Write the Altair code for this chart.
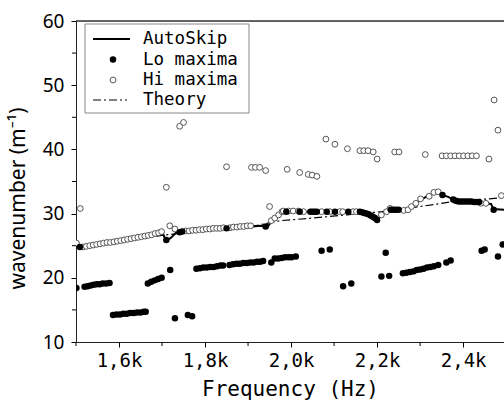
import altair as alt
import pandas as pd

# ---------------- data ----------------
theory_f = [1500, 1600, 1700, 1800, 1900, 1975, 2050, 2130, 2210, 2290, 2370, 2495]
theory_v = [24.9, 25.7, 26.6, 27.4, 27.9, 28.9, 29.3, 29.8, 30.3, 31.0, 31.8, 32.5]

auto_f = [1500, 1505, 1512, 1530, 1560, 1600, 1650, 1690, 1702, 1708, 1714, 1722, 1732, 1745,
          1780, 1820, 1850, 1880, 1910, 1930, 1940, 1946, 1955, 1965, 1978, 1990, 2050, 2100,
          2150, 2165, 2180, 2192, 2200, 2208, 2220, 2232, 2260, 2275, 2290, 2305, 2325, 2342,
          2352, 2365, 2380, 2395, 2435, 2450, 2465, 2470, 2495]
auto_v = [25.3, 24.9, 24.7, 24.9, 25.2, 25.6, 26.2, 26.8, 26.9, 26.0, 25.9, 26.3, 27.0, 27.2,
          27.4, 27.6, 27.7, 27.9, 28.0, 28.1, 27.9, 28.0, 28.8, 29.5, 30.1, 30.3, 30.3, 30.3,
          30.3, 30.2, 29.9, 29.5, 29.0, 29.6, 30.3, 30.6, 30.6, 30.9, 31.6, 32.3, 33.0, 33.4,
          32.9, 32.6, 32.1, 31.9, 31.8, 31.6, 31.5, 30.7, 30.6]

lo_f = [1501, 1520, 1527, 1534, 1541, 1548, 1555, 1562, 1570, 1578,
        1586, 1594, 1602, 1610, 1618, 1626, 1634, 1642, 1650, 1658, 1662,
        1667, 1675, 1683, 1691, 1699, 1719, 1730, 1760, 1770,
        1780, 1788, 1796, 1804, 1812, 1820, 1828, 1836, 1842,
        1857, 1865, 1873, 1881, 1889, 1897, 1905, 1913, 1921, 1928, 1935,
        1954, 1962, 1970, 1978, 1986, 1994, 2001, 2011, 2071, 2090, 2121, 2140,
        2210, 2220, 2228, 2260, 2268, 2276, 2284, 2292, 2300, 2308, 2316, 2324, 2332, 2342,
        2361, 2371, 2443, 2450, 2481, 2492,
        1509, 1710, 1741, 1747, 1850, 1941, 1989, 2020, 2045, 2050, 2055, 2060, 2083, 2102,
        2133, 2160, 2165, 2170, 2175, 2180, 2185, 2190, 2195, 2200, 2232, 2238, 2244, 2250,
        2352, 2377, 2383, 2389, 2395, 2401, 2407, 2413, 2419, 2425, 2431, 2437, 2471]
lo_v = [18.4, 18.6, 18.7, 18.8, 18.9, 19.0, 19.0, 19.1, 19.1, 19.2,
        14.2, 14.3, 14.3, 14.4, 14.4, 14.5, 14.5, 14.6, 14.6, 14.7, 14.7,
        19.1, 19.4, 19.6, 19.8, 20.0, 21.2, 13.7, 14.2, 14.0,
        21.4, 21.5, 21.6, 21.6, 21.7, 21.7, 21.8, 21.9, 21.9,
        22.0, 22.1, 22.2, 22.2, 22.3, 22.3, 22.4, 22.4, 22.5, 22.5, 22.6,
        22.4, 23.0, 23.0, 23.1, 23.2, 23.2, 23.2, 23.3, 24.2, 24.4, 18.7, 19.1,
        20.2, 23.9, 20.3, 20.7, 20.8, 20.9, 21.0, 21.2, 21.3, 21.4, 21.6, 21.7, 21.8, 22.0,
        22.4, 22.7, 24.2, 24.4, 23.3, 25.2,
        24.8, 25.9, 27.1, 27.2, 27.7, 28.0, 30.3, 30.3, 30.3, 30.3, 30.3, 30.3, 30.3, 30.3,
        30.3, 30.3, 30.2, 30.1, 30.0, 29.9, 29.7, 29.5, 29.3, 29.0, 30.6, 30.6, 30.6, 30.6,
        32.9, 32.2, 32.0, 31.9, 31.9, 31.9, 31.9, 31.9, 31.9, 31.8, 31.8, 31.8, 30.6]

hi_f = [1510, 1710, 1741, 1750, 1850, 1908, 1917, 1927, 1941, 1950, 1991, 2020, 2040, 2049, 2060,
        2081, 2102, 2131, 2160, 2169, 2179, 2191, 2200, 2241, 2251, 2312,
        2351, 2361, 2371, 2381, 2391, 2401, 2411, 2421, 2431, 2460, 2472, 2481, 2489,
        1501, 1516, 1524, 1532, 1540, 1548, 1556, 1564, 1572, 1580, 1588, 1596, 1604, 1612,
        1620, 1628, 1636, 1644, 1652, 1660, 1668, 1676, 1684, 1692, 1699, 1718, 1730,
        1755, 1763, 1771, 1779, 1787, 1795, 1803, 1811, 1819, 1827, 1835, 1843, 1858, 1866,
        1874, 1882, 1890, 1898, 1906, 1954, 1962, 1971, 1979,
        1982, 1994, 2005, 2017, 2029, 2071, 2090, 2113, 2120, 2144, 2152, 2210, 2222, 2230,
        2262, 2272, 2280, 2290, 2301, 2321, 2332, 2342, 2441, 2453]
hi_v = [30.8, 34.1, 43.6, 44.2, 37.3, 37.2, 37.2, 37.2, 36.7, 31.1, 36.9, 36.4, 36.1, 36.0, 35.8,
        41.6, 40.8, 40.1, 39.8, 39.8, 39.8, 39.6, 38.5, 39.6, 39.6, 39.2,
        39.0, 39.0, 39.0, 39.0, 39.0, 39.0, 39.0, 39.0, 39.0, 38.5, 47.7, 43.0, 32.8,
        25.4, 24.8, 24.9, 25.0, 25.1, 25.2, 25.3, 25.4, 25.5, 25.5, 25.6, 25.7, 25.8, 25.9,
        26.0, 26.1, 26.2, 26.3, 26.4, 26.5, 26.6, 26.7, 26.9, 27.0, 27.2, 28.1, 27.6,
        27.3, 27.3, 27.4, 27.4, 27.5, 27.5, 27.6, 27.6, 27.7, 27.7, 27.7, 27.8, 27.8, 27.9,
        27.9, 28.0, 28.0, 28.1, 28.1, 28.9, 29.3, 29.8, 30.3,
        30.4, 30.4, 30.4, 30.4, 30.3, 30.3, 30.3, 30.3, 30.3, 30.3, 30.3, 29.8, 30.3, 30.8,
        30.5, 30.6, 31.1, 31.6, 32.3, 32.7, 33.3, 33.4, 31.6, 31.6]

x_major = [1600, 1800, 2000, 2200, 2400]
x_minor = [1500, 1700, 1900, 2100, 2300]
y_major = [10, 20, 30, 40, 50, 60]
y_minor = [15, 25, 35, 45, 55]
legend_labels = ["AutoSkip", "Lo maxima", "Hi maxima", "Theory"]

# ---------------- chart ----------------
W, H = 428, 321
MONO = "DejaVu Sans Mono"
SANS = "Noto Sans"

xs = alt.Scale(domain=[1500, 2495], nice=False, zero=False)
ys = alt.Scale(domain=[10, 60], nice=False, zero=False)

theory_df = pd.DataFrame({"f": theory_f, "v": theory_v})
auto_df = pd.DataFrame({"f": auto_f, "v": auto_v})
lo_df = pd.DataFrame({"f": lo_f, "v": lo_v})
hi_df = pd.DataFrame({"f": hi_f, "v": hi_v})

x_axis = alt.Axis(values=x_major, title="Frequency (Hz)",
                  labelExpr="replace(format(datum.value/1000,'.1f'),'.',',')+'k'",
                  labelFont=MONO, labelFontSize=19, labelColor="black", labelPadding=4,
                  titleFont=MONO, titleFontSize=21, titleFontWeight="normal", titleColor="black",
                  titleY=47, titleBaseline="middle",
                  tickSize=5, tickColor="black", domainColor="#222222", grid=False)
y_axis = alt.Axis(values=y_major, title="wavenumber (m⁻¹)",
                  labelFont=SANS, labelFontSize=19, labelColor="black", labelPadding=7,
                  titleFont=SANS, titleFontSize=21, titleFontWeight="normal", titleColor="black",
                  titleX=-58, titleY=177, titleAngle=-90, titleAlign="center", titleBaseline="middle",
                  tickSize=5, tickColor="black", domainColor="#222222", grid=False)

X = alt.X("f:Q", scale=xs, axis=x_axis)
Y = alt.Y("v:Q", scale=ys, axis=y_axis)

theory = alt.Chart(theory_df).mark_line(color="black", strokeWidth=1.2, strokeDash=[8, 3, 2, 3], clip=True).encode(
    x=X, y=Y)
auto = alt.Chart(auto_df).mark_line(color="black", strokeWidth=2, clip=True).encode(x=X, y=Y)
hi = alt.Chart(hi_df).mark_point(shape="circle", filled=False, fill="white", fillOpacity=1,
                                 stroke="#555555", strokeWidth=1, size=34, opacity=1, clip=True).encode(x=X, y=Y)
lo = alt.Chart(lo_df).mark_circle(color="black", size=42, opacity=1, clip=True).encode(x=X, y=Y)

ymin_df = pd.DataFrame({"v": y_minor})
xmin_df = pd.DataFrame({"f": x_minor})
y_minor_ticks = alt.Chart(ymin_df).mark_rule(color="black", strokeWidth=1).encode(
    y=Y, x=alt.value(-4), x2=alt.value(0))
x_minor_ticks = alt.Chart(xmin_df).mark_rule(color="black", strokeWidth=1).encode(
    x=X, y=alt.value(H), y2=alt.value(H + 4))

one = pd.DataFrame({"a": [0]})
top_border = alt.Chart(one).mark_rule(color="#333333", strokeWidth=1.5).encode(
    x=alt.value(0), x2=alt.value(W), y=alt.value(0))

# legend (decoration)
leg_box = alt.Chart(one).mark_rect(fill="white", stroke="#888888", strokeWidth=1).encode(
    x=alt.value(9), x2=alt.value(173), y=alt.value(3), y2=alt.value(92))
row_y = [18, 38.5, 59, 79]
leg_auto = alt.Chart(one).mark_rule(color="black", strokeWidth=2).encode(
    x=alt.value(17), x2=alt.value(54), y=alt.value(row_y[0]))
leg_lo = alt.Chart(one).mark_circle(color="black", size=42, opacity=1).encode(
    x=alt.value(37), y=alt.value(row_y[1]))
leg_hi = alt.Chart(one).mark_point(shape="circle", filled=False, stroke="#555555", strokeWidth=1, size=34, opacity=1).encode(
    x=alt.value(37), y=alt.value(row_y[2]))
leg_th = alt.Chart(one).mark_rule(color="black", strokeWidth=1.2, strokeDash=[8, 3, 2, 3]).encode(
    x=alt.value(17), x2=alt.value(51), y=alt.value(row_y[3]))
leg_texts = [
    alt.Chart(one).mark_text(text=lab, font=MONO, fontSize=17.5, align="left", baseline="middle", color="black").encode(
        x=alt.value(67), y=alt.value(ry))
    for lab, ry in zip(legend_labels, row_y)
]

chart = alt.layer(
    theory, auto, hi, lo, y_minor_ticks, x_minor_ticks, top_border,
    leg_box, leg_auto, leg_lo, leg_hi, leg_th, *leg_texts
).properties(
    width=W, height=H,
    autosize=alt.AutoSizeParams(type="none"),
    padding={"left": 76, "top": 21, "right": 0, "bottom": 60},
).configure_view(stroke=None).configure(background="white")

chart.save("out.html", embed_options={"renderer": "svg", "actions": False})
